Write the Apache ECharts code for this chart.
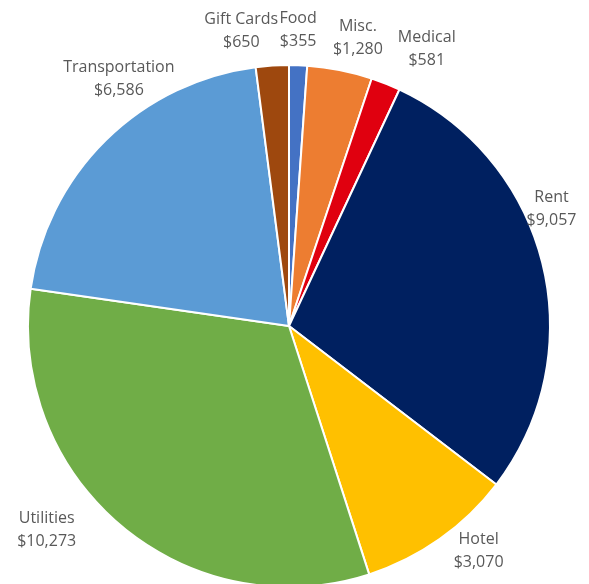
<!DOCTYPE html>
<html>
<head>
<meta charset="utf-8">
<script src="https://cdn.jsdelivr.net/npm/echarts@6/dist/echarts.min.js"></script>
<style>
html,body{margin:0;padding:0;background:#fff;}
#chart{width:589px;height:584px;}
</style>
</head>
<body>
<div id="chart"></div>
<script>
const categories = ['Food', 'Misc.', 'Medical', 'Rent', 'Hotel', 'Utilities', 'Transportation', 'Gift Cards'];
const values = [355, 1280, 581, 9057, 3070, 10273, 6586, 650];
const colors = ['#4472C4', '#ED7D31', '#E0000F', '#002060', '#FFC000', '#70AD47', '#5B9BD5', '#9E480E'];
// label offsets (px) of label centre from the slice's outer edge point
const labelOffsets = [[0, -35], [18, -32], [41, -35], [9, -55], [39, 12], [-74, 4], [13, -61], [-31, -35]];

const fmt = v => '$' + v.toLocaleString('en-US');

const chart = echarts.init(document.getElementById('chart'), null, {renderer: 'canvas'});
chart.setOption({
  animation: false,
  backgroundColor: '#ffffff',
  series: [{
    type: 'pie',
    center: [289, 326],
    radius: 261,
    startAngle: 90,
    clockwise: true,
    avoidLabelOverlap: false,
    silent: true,
    itemStyle: {borderColor: '#ffffff', borderWidth: 2},
    label: {
      show: true,
      position: 'outside',
      distanceToLabelLine: 0,
      formatter: p => p.name + '\n' + fmt(p.value),
      color: '#595959',
      fontFamily: 'Open Sans',
      fontSize: 16,
      lineHeight: 23
    },
    labelLine: {show: false, length: 0, length2: 0},
    labelLayout: function (params) {
      const r = params.labelRect;
      const edgeX = params.align === 'right' ? r.x + r.width : r.x;
      const edgeY = r.y + r.height / 2;
      const off = labelOffsets[params.dataIndex];
      return {x: edgeX + off[0], y: edgeY + off[1], align: 'center', verticalAlign: 'middle'};
    },
    data: categories.map((c, i) => ({name: c, value: values[i], itemStyle: {color: colors[i]}}))
  }]
});
</script>
</body>
</html>
